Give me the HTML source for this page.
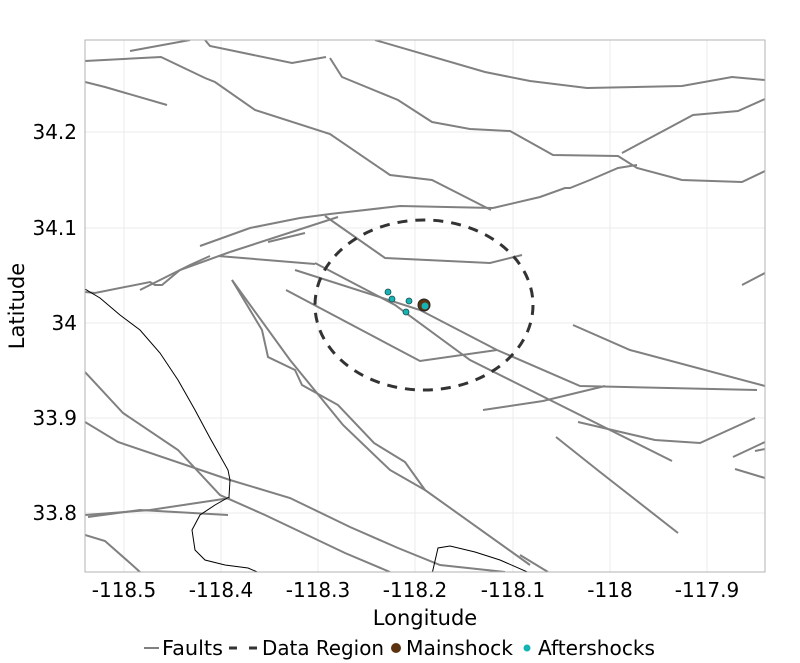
<!DOCTYPE html>
<html><head><style>body{margin:0;background:#fff}svg{display:block;font-family:"DejaVu Sans","Liberation Sans",sans-serif}</style></head><body>
<svg width="800" height="663" xmlns="http://www.w3.org/2000/svg">
<rect width="800" height="663" fill="#fff"/>
<g stroke="#ebebeb" stroke-width="1">
<line x1="124" y1="40" x2="124" y2="572"/><line x1="221" y1="40" x2="221" y2="572"/><line x1="318" y1="40" x2="318" y2="572"/><line x1="415" y1="40" x2="415" y2="572"/><line x1="513" y1="40" x2="513" y2="572"/><line x1="610" y1="40" x2="610" y2="572"/><line x1="707" y1="40" x2="707" y2="572"/>
<line x1="85" y1="132" x2="765" y2="132"/><line x1="85" y1="228" x2="765" y2="228"/><line x1="85" y1="323" x2="765" y2="323"/><line x1="85" y1="418" x2="765" y2="418"/><line x1="85" y1="513" x2="765" y2="513"/>
</g>
<clipPath id="c"><rect x="85" y="40" width="680" height="532"/></clipPath>
<g clip-path="url(#c)">
<g fill="none" stroke="#808080" stroke-width="2">
<polyline points="85,61 161,57 205,78 215,82 255,110 330,134 390,175 432,180 491,210"/>
<polyline points="130,51 190,40"/>
<polyline points="205,40 210,46 292,63 326,57"/>
<polyline points="85,82 105,87 167,105"/>
<polyline points="330,58 342,77 398,100 432,122 470,129 510,131 553,155 618,156 637,168 682,180 742,182 765,171"/>
<polyline points="375,40 485,72 530,81 587,88 682,86 732,77 765,80"/>
<polyline points="622,153 693,115 738,111 765,99"/>
<polyline points="493,208 540,197 565,188 570,188 590,180 618,168 637,165"/>
<polyline points="200,246 250,228 300,218 330,214 400,206 493,208"/>
<polyline points="268,242 305,233"/>
<polyline points="230,252 338,217"/>
<polyline points="85,292 95,293 150,282 155,285 162,285 180,270 230,252"/>
<polyline points="140,290 190,265 210,256"/>
<polyline points="218,256 315,264"/>
<polyline points="325,216 385,258 490,263 522,255"/>
<polyline points="295,270 420,310 497,350 580,386 757,390"/>
<polyline points="315,263 395,305 470,360 520,385 672,461"/>
<polyline points="286,290 420,361 497,350"/>
<polyline points="232,280 262,330 268,357 295,370 302,385 338,405 374,443 405,462 425,490 530,565"/>
<polyline points="232,280 290,360 343,425 390,470 425,490"/>
<polyline points="573,325 630,350 765,386"/>
<polyline points="483,410 543,401 605,386"/>
<polyline points="578,422 655,440 700,443 755,418"/>
<polyline points="556,437 600,472 678,533"/>
<polyline points="742,285 765,273"/>
<polyline points="733,457 765,442"/><polyline points="735,469 765,478"/><polyline points="755,451 765,449"/>
<polyline points="85,372 123,413 178,450 220,495 265,515 345,553 390,572"/>
<polyline points="85,422 118,442 230,480 290,498 350,527 398,548 440,565 505,572"/>
<polyline points="85,515 150,510 230,498"/><polyline points="88,517 140,510 228,515"/>
<polyline points="85,535 105,541 130,563 140,572"/>
<polyline points="520,555 548,572"/>
</g>
<g fill="none" stroke="#000" stroke-width="1">
<polyline points="85,289 100,298 120,315 140,330 160,353 178,380 195,410 210,438 228,470 230,480 229,497 215,505 200,515 192,530 195,550 205,560 225,565 248,568 262,574"/>
<polyline points="432,574 438,548 450,546 475,552 500,560 532,574"/>
</g>
<ellipse cx="424" cy="305" rx="109" ry="85" fill="none" stroke="#333" stroke-width="3" stroke-dasharray="10,8"/>
<g stroke="#1a4a4a" stroke-width="0.8" fill="#14b4b4">
<circle cx="388" cy="292" r="3"/><circle cx="392" cy="299" r="3"/><circle cx="409" cy="301" r="3"/><circle cx="406" cy="312" r="3"/>
</g>
<circle cx="424" cy="305" r="6" fill="#5c3310" stroke="#222" stroke-width="1"/>
<circle cx="425" cy="306" r="3.5" fill="#14b4b4"/>
</g>
<rect x="85" y="40" width="680" height="532" fill="none" stroke="#b3b3b3" stroke-width="1"/>
<g font-size="20" fill="#000" text-anchor="end">
<text x="77" y="139">34.2</text><text x="77" y="235">34.1</text><text x="77" y="330">34</text><text x="77" y="425">33.9</text><text x="77" y="520">33.8</text>
</g>
<g font-size="20" fill="#000" text-anchor="middle">
<text x="124" y="597">-118.5</text><text x="221" y="597">-118.4</text><text x="318" y="597">-118.3</text><text x="415" y="597">-118.2</text><text x="513" y="597">-118.1</text><text x="610" y="597">-118</text><text x="707" y="597">-117.9</text>
<text x="425" y="625" font-size="21">Longitude</text>
<text transform="translate(24,306) rotate(-90)" font-size="21">Latitude</text>
</g>
<g font-size="20" fill="#000">
<line x1="144" y1="648" x2="159" y2="648" stroke="#808080" stroke-width="2"/>
<text x="162" y="655" textLength="61" lengthAdjust="spacingAndGlyphs">Faults</text>
<line x1="229" y1="648" x2="257" y2="648" stroke="#333" stroke-width="3" stroke-dasharray="8,12"/>
<text x="262" y="655" textLength="122" lengthAdjust="spacingAndGlyphs">Data Region</text>
<circle cx="396" cy="648" r="5" fill="#5c3310"/>
<text x="406" y="655" textLength="107" lengthAdjust="spacingAndGlyphs">Mainshock</text>
<circle cx="527" cy="648" r="3.5" fill="#14b4b4"/>
<text x="538" y="655" textLength="117" lengthAdjust="spacingAndGlyphs">Aftershocks</text>
</g>
</svg>
</body></html>
